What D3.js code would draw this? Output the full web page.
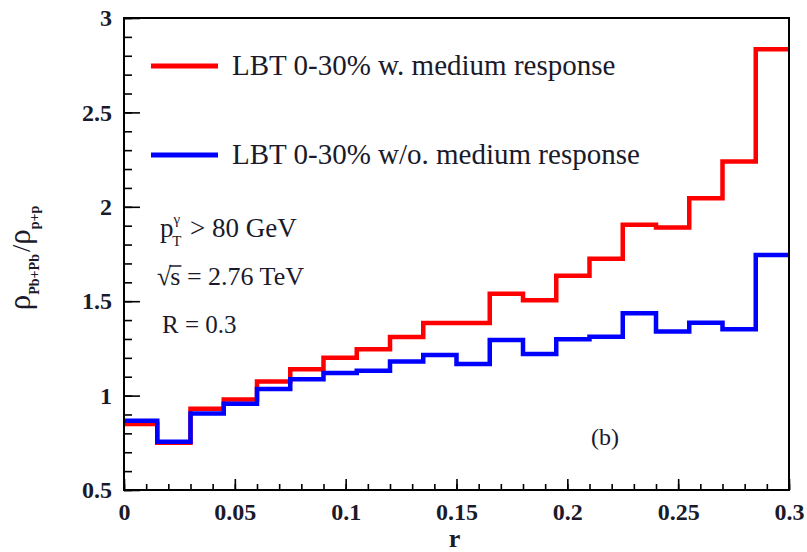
<!DOCTYPE html>
<html>
<head>
<meta charset="utf-8">
<script src="https://cdn.jsdelivr.net/npm/d3@7"></script>
<style>
  body { margin: 0; background: #fff; }
  text { font-family: "Liberation Serif", "Times New Roman", serif; fill: #1a1a2a; }
</style>
</head>
<body>
<div id="chart"></div>
<script>
// bin edges (r), 20 bins of width 0.015
var binEdges = d3.range(21).map(i => +(i * 0.015).toFixed(3));

// LBT 0-30% with medium response
var withResponse = [0.85, 0.75, 0.93, 0.98, 1.075, 1.14, 1.20, 1.245, 1.31, 1.385,
                    1.385, 1.54, 1.505, 1.635, 1.725, 1.905, 1.89, 2.045, 2.24, 2.835];
// LBT 0-30% without medium response
var withoutResponse = [0.867, 0.755, 0.905, 0.957, 1.035, 1.087, 1.12, 1.132, 1.18, 1.215,
                       1.167, 1.295, 1.22, 1.298, 1.312, 1.436, 1.339, 1.386, 1.351, 1.745];

var xTicks = [0, 0.05, 0.1, 0.15, 0.2, 0.25, 0.3];
var yTicks = [0.5, 1, 1.5, 2, 2.5, 3];

var W = 807, H = 552;
var margin = {left: 124, right: 18, top: 18, bottom: 62};

var svg = d3.select("#chart").append("svg")
    .attr("width", W)
    .attr("height", H);

var x = d3.scaleLinear().domain([0, 0.3]).range([margin.left, W - margin.right]);
var y = d3.scaleLinear().domain([0.5, 3]).range([H - margin.bottom, margin.top]);

// step line: point at each bin's low edge, plus closing point at the last edge
function stepPoints(vals) {
    var pts = vals.map((v, i) => [binEdges[i], v]);
    pts.push([binEdges[binEdges.length - 1], vals[vals.length - 1]]);
    return pts;
}
var line = d3.line()
    .x(d => x(d[0]))
    .y(d => y(d[1]))
    .curve(d3.curveStepAfter);

svg.append("path")
    .attr("d", line(stepPoints(withResponse)))
    .attr("fill", "none")
    .attr("stroke", "#ff0000")
    .attr("stroke-width", 4.5);

svg.append("path")
    .attr("d", line(stepPoints(withoutResponse)))
    .attr("fill", "none")
    .attr("stroke", "#0000ff")
    .attr("stroke-width", 4.5);

// axes, ticks pointing inward
var xMinor = d3.range(0, 0.3001, 0.01).map(v => +v.toFixed(3));
var yMinor = d3.range(0.5, 3.001, 0.1).map(v => +v.toFixed(2));

svg.append("g")
    .attr("transform", "translate(0," + y(0.5) + ")")
    .call(d3.axisBottom(x).tickValues(xMinor).tickSize(-6).tickFormat(""));
svg.append("g")
    .attr("transform", "translate(0," + y(0.5) + ")")
    .call(d3.axisBottom(x).tickValues(xTicks).tickSize(-11).tickPadding(13)
        .tickFormat(d => d === 0 ? "0" : String(d)));

svg.append("g")
    .attr("transform", "translate(" + x(0) + ",0)")
    .call(d3.axisLeft(y).tickValues(yMinor).tickSize(-8).tickFormat(""));
svg.append("g")
    .attr("transform", "translate(" + x(0) + ",0)")
    .call(d3.axisLeft(y).tickValues(yTicks).tickSize(-16).tickPadding(12)
        .tickFormat(d => String(d)));

svg.selectAll(".domain").remove();
svg.selectAll(".tick line").attr("stroke", "#000").attr("stroke-width", 1.6);
svg.selectAll(".tick text")
    .style("font-family", "'Liberation Serif', serif")
    .style("font-weight", "bold")
    .style("font-size", "24px")
    .attr("fill", "#1a1a2a");

// frame
svg.append("rect")
    .attr("x", x(0)).attr("y", y(3))
    .attr("width", x(0.3) - x(0)).attr("height", y(0.5) - y(3))
    .attr("fill", "none")
    .attr("stroke", "#000")
    .attr("stroke-width", 2);

// legend
var legend = [
    {label: "LBT 0-30% w. medium response", color: "#ff0000", yy: 66},
    {label: "LBT 0-30% w/o. medium response", color: "#0000ff", yy: 155}
];
legend.forEach(function (d) {
    svg.append("line")
        .attr("x1", 151).attr("x2", 218)
        .attr("y1", d.yy).attr("y2", d.yy)
        .attr("stroke", d.color).attr("stroke-width", 5);
    svg.append("text")
        .attr("x", 232).attr("y", d.yy + 9)
        .style("font-size", "29px")
        .text(d.label);
});

// annotations
var t1 = svg.append("text").attr("x", 160).attr("y", 237).style("font-size", "27px");
t1.append("tspan").text("p");
t1.append("tspan").attr("dx", 0).attr("dy", -13).style("font-size", "15px").text("γ");
t1.append("tspan").attr("dx", -8).attr("dy", 22).style("font-size", "15px").text("T");
t1.append("tspan").attr("dx", 2).attr("dy", -9).text(" > 80 GeV");

var t2 = svg.append("text").attr("x", 157).attr("y", 285).style("font-size", "26px");
t2.append("tspan").text("√");
t2.append("tspan").attr("dx", -1).text("s");
t2.append("tspan").text(" = 2.76 TeV");
// bar over the s, drawn from the tspan's box
var sBox = t2.selectAll("tspan").nodes()[1].getBBox();
svg.append("line")
    .attr("x1", sBox.x - 1).attr("x2", sBox.x + sBox.width + 1)
    .attr("y1", sBox.y + 4).attr("y2", sBox.y + 4)
    .attr("stroke", "#1a1a2a").attr("stroke-width", 1.5);

svg.append("text").attr("x", 162).attr("y", 333).style("font-size", "25px").text("R = 0.3");

svg.append("text").attr("x", 605).attr("y", 445)
    .attr("text-anchor", "middle")
    .style("font-size", "24px")
    .text("(b)");

// axis titles
svg.append("text")
    .attr("x", x(0.15) - 2).attr("y", 547)
    .attr("text-anchor", "middle")
    .style("font-size", "26px")
    .style("font-weight", "bold")
    .text("r");

var yt = svg.append("text")
    .attr("transform", "translate(30,258) rotate(-90)")
    .attr("text-anchor", "middle")
    .style("font-size", "31px");
yt.append("tspan").text("ρ");
yt.append("tspan").attr("dy", 9).style("font-size", "14px").style("font-weight", "bold").text("Pb+Pb");
yt.append("tspan").attr("dy", -9).attr("dx", 2).style("font-size", "26px").text("/");
yt.append("tspan").text("ρ");
yt.append("tspan").attr("dy", 9).style("font-size", "14px").style("font-weight", "bold").text("p+p");
</script>
</body>
</html>
